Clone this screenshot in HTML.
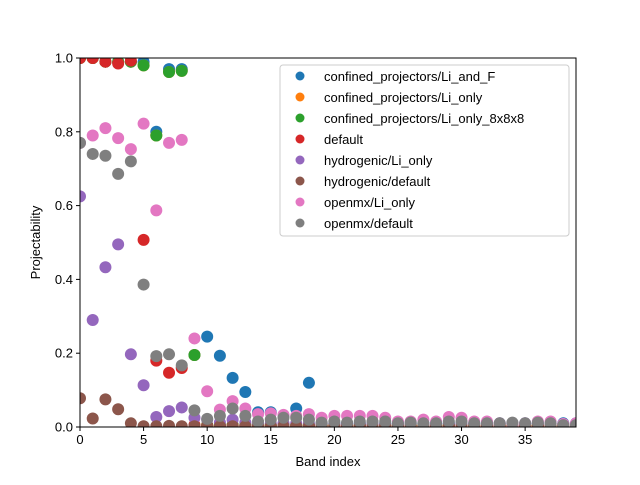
<!DOCTYPE html>
<html><head><meta charset="utf-8"><style>
body{margin:0;background:#fff;}
svg{font-family:"Liberation Sans","DejaVu Sans",sans-serif;}
</style></head><body>
<svg id="chart" width="640" height="480" xmlns="http://www.w3.org/2000/svg">
<rect width="640" height="480" fill="#fff"/>
<g id="marks"></g>
<g id="axes"></g>
<g id="legend"></g>
</svg>
<script>
const seriesNames = ["confined_projectors/Li_and_F","confined_projectors/Li_only","confined_projectors/Li_only_8x8x8","default","hydrogenic/Li_only","hydrogenic/default","openmx/Li_only","openmx/default"];
const seriesColors = ["#1f77b4","#ff7f0e","#2ca02c","#d62728","#9467bd","#8c564b","#e377c2","#7f7f7f"];
const xTicks = [0,5,10,15,20,25,30,35];
const yTicks = [0.0,0.2,0.4,0.6,0.8,1.0];
const liAndF = [1,1,0.99,0.99,0.99,0.99,0.8,0.97,0.97,0.195,0.245,0.193,0.133,0.095,0.04,0.04,0.03,0.05,0.12,0.01,0.01,0.01,0.01,0.01,0.01,0.01,0.01,0.01,0.01,0.01,0.01,0.01,0.01,0.01,0.01,0.01,0.01,0.01,0.01,0.01];
const liOnly = [1,1,0.99,0.99,0.99,0.98,0.79,0.962,0.965,0.195,0.005,0.005,0.005,0.005,0.005,0.005,0.005,0.005,0.005,0.005,0.005,0.005,0.005,0.005,0.005,0.005,0.005,0.005,0.005,0.005,0.005,0.005,0.005,0.005,0.005,0.005,0.005,0.005,0.005,0.005];
const liOnly8 = [1,1,0.99,0.99,0.99,0.98,0.79,0.962,0.965,0.195,0.005,0.005,0.005,0.005,0.005,0.005,0.005,0.005,0.005,0.005,0.005,0.005,0.005,0.005,0.005,0.005,0.005,0.005,0.005,0.005,0.005,0.005,0.005,0.005,0.005,0.005,0.005,0.005,0.005,0.005];
const defaultS = [1,1,0.99,0.985,0.993,0.507,0.18,0.147,0.16,0.005,0.003,0.003,0.003,0.003,0.003,0.003,0.003,0.003,0.003,0.003,0.003,0.003,0.003,0.003,0.003,0.003,0.003,0.003,0.003,0.003,0.003,0.003,0.003,0.003,0.003,0.003,0.003,0.003,0.003,0.003];
const hydroLi = [0.625,0.29,0.433,0.495,0.197,0.113,0.027,0.043,0.053,0.025,0.02,0.012,0.02,0.012,0.01,0.01,0.01,0.01,0.01,0.008,0.008,0.008,0.008,0.008,0.008,0.008,0.008,0.008,0.008,0.008,0.008,0.008,0.008,0.008,0.008,0.008,0.008,0.008,0.008,0.008];
const hydroDef = [0.078,0.023,0.075,0.048,0.01,0.002,0.002,0.003,0.002,0.002,0.002,0.002,0.002,0.002,0.002,0.002,0.002,0.002,0.002,0.002,0.002,0.002,0.002,0.002,0.002,0.002,0.002,0.002,0.002,0.002,0.002,0.002,0.002,0.002,0.002,0.002,0.002,0.002,0.002,0.002];
const omxLi = [0.77,0.79,0.81,0.783,0.753,0.822,0.587,0.77,0.778,0.24,0.097,0.047,0.07,0.05,0.035,0.037,0.033,0.03,0.035,0.025,0.03,0.03,0.03,0.03,0.025,0.015,0.015,0.02,0.015,0.027,0.025,0.015,0.015,0.01,0.01,0.01,0.015,0.015,0.008,0.01];
const omxDef = [0.77,0.74,0.735,0.686,0.72,0.386,0.192,0.197,0.167,0.045,0.022,0.03,0.05,0.03,0.015,0.02,0.025,0.025,0.02,0.012,0.015,0.012,0.015,0.015,0.015,0.01,0.012,0.01,0.01,0.015,0.015,0.01,0.01,0.01,0.012,0.01,0.012,0.01,0.005,0.005];
const allSeries = [liAndF,liOnly,liOnly8,defaultS,hydroLi,hydroDef,omxLi,omxDef];

const NS="http://www.w3.org/2000/svg";
const L=80,R=576,T=58,B=427,XMAX=39;
const xs=v=>L+v/XMAX*(R-L);
const ys=v=>B-v*(B-T);
function mk(tag,attrs,parent){const e=document.createElementNS(NS,tag);for(const k in attrs)e.setAttribute(k,attrs[k]);parent.appendChild(e);return e;}
const marks=document.getElementById('marks');
const clip=mk('clipPath',{id:'cp'},document.getElementById('chart'));
mk('rect',{x:L,y:T,width:R-L,height:B-T},clip);
marks.setAttribute('clip-path','url(#cp)');
allSeries.forEach((s,si)=>{
  s.forEach((v,i)=>{
    const c=mk('circle',{cx:xs(i),cy:ys(v),r:6,fill:seriesColors[si]},marks);
    
    
  });
});
const axes=document.getElementById('axes');
mk('rect',{x:L,y:T,width:R-L,height:B-T,fill:'none',stroke:'#000','stroke-width':1},axes);
xTicks.forEach(t=>{
  mk('line',{x1:xs(t),x2:xs(t),y1:B,y2:B+4,stroke:'#000'},axes);
  const tx=mk('text',{x:xs(t),y:B+17,'text-anchor':'middle','font-size':'13'},axes);
  tx.textContent=t;
  
  
});
yTicks.forEach(t=>{
  mk('line',{x1:L-4,x2:L,y1:ys(t),y2:ys(t),stroke:'#000'},axes);
  const tx=mk('text',{x:L-7,y:ys(t)+4.5,'text-anchor':'end','font-size':'13'},axes);
  tx.textContent=t.toFixed(1);
  
  
});
const xl=mk('text',{x:(L+R)/2,y:466,'text-anchor':'middle','font-size':'13'},axes);
xl.textContent='Band index';


const yl=mk('text',{x:0,y:0,'text-anchor':'middle','font-size':'13',transform:'translate(40,'+((T+B)/2)+') rotate(-90)'},axes);
yl.textContent='Projectability';


const lg=document.getElementById('legend');
mk('rect',{x:280,y:65,width:289,height:171,rx:3,fill:'#fff','fill-opacity':0.8,stroke:'#ccc'},lg);
seriesNames.forEach((n,i)=>{
  const y=76+i*21;
  const g=mk('g',{},lg);
  
  
  mk('circle',{cx:300,cy:y,r:4.5,fill:seriesColors[i]},g);
  const t=mk('text',{x:324,y:y+5,'font-size':'13'},g);
  t.textContent=n;
});
</script>
</body></html>
